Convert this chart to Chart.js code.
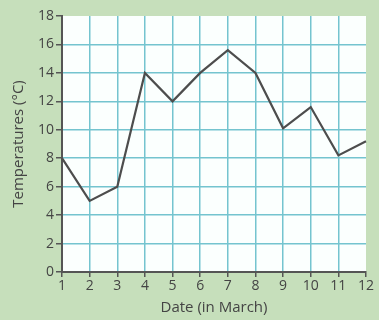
<!DOCTYPE html>
<html>
<head>
<meta charset="utf-8">
<script src="https://cdn.jsdelivr.net/npm/chart.js@4"></script>
<style>
  html, body { margin: 0; padding: 0; background: #c6dfbb; }
  #wrap { width: 379px; height: 320px; }
</style>
</head>
<body>
<div id="wrap"><canvas id="tempChart" width="379" height="320"></canvas></div>
<script>
const dates = ["1", "2", "3", "4", "5", "6", "7", "8", "9", "10", "11", "12"];
const temperatures = [8, 5, 6, 14, 12, 14, 15.6, 14, 10.1, 11.6, 8.2, 9.2];
const yMin = 0;
const yMax = 18;
const yStep = 2;

// paint the green page and white plot area
const paperPlugin = {
    id: "paper",
    beforeDraw(chart) {
        const { ctx, chartArea: a } = chart;
        ctx.save();
        ctx.fillStyle = "#c6dfbb";
        ctx.fillRect(0, 0, chart.width, chart.height);
        ctx.fillStyle = "#fbfffe";
        ctx.fillRect(a.left, a.top, a.right - a.left, a.bottom - a.top);
        ctx.restore();
    }
};

const ctx = document.getElementById("tempChart").getContext("2d");

new Chart(ctx, {
    type: "line",
    data: {
        labels: dates,
        datasets: [{
            data: temperatures,
            borderColor: "#4d4d4d",
            borderWidth: 2.2,
            pointRadius: 0,
            tension: 0,
            fill: false
        }]
    },
    options: {
        responsive: false,
        animation: false,
        layout: { padding: { top: 16, right: 13, bottom: 3, left: 10 } },
        plugins: {
            legend: { display: false },
            tooltip: { enabled: false }
        },
        scales: {
            x: {
                offset: false,
                afterFit: (scale) => { scale.height = 45; },
                grid: {
                    color: (c) => c.index === dates.length - 1 ? "rgba(0,0,0,0)" : "#74c4cf",
                    lineWidth: 1.5,
                    tickColor: "#555",
                    tickLength: 5
                },
                border: { color: "#555", width: 2 },
                ticks: {
                    color: "#444",
                    font: { family: "Open Sans", size: 14 },
                    maxRotation: 0,
                    autoSkip: false,
                    padding: 1
                },
                title: {
                    display: true,
                    text: "Date (in March)",
                    color: "#444",
                    font: { family: "Open Sans", size: 15 },
                    padding: { top: 0, bottom: 0 }
                }
            },
            y: {
                min: yMin,
                max: yMax,
                afterFit: (scale) => { scale.width = 52; },
                grid: {
                    color: (c) => c.tick.value === yMax ? "rgba(0,0,0,0)" : "#74c4cf",
                    lineWidth: 1.5,
                    tickColor: "#555",
                    tickLength: 6
                },
                border: { color: "#555", width: 2 },
                ticks: {
                    stepSize: yStep,
                    color: "#444",
                    font: { family: "Open Sans", size: 14 },
                    padding: 2
                },
                title: {
                    display: true,
                    text: "Temperatures (°C)",
                    color: "#444",
                    font: { family: "Open Sans", size: 15 },
                    padding: { top: 0, bottom: 2 }
                }
            }
        }
    },
    plugins: [paperPlugin]
});
</script>
</body>
</html>
